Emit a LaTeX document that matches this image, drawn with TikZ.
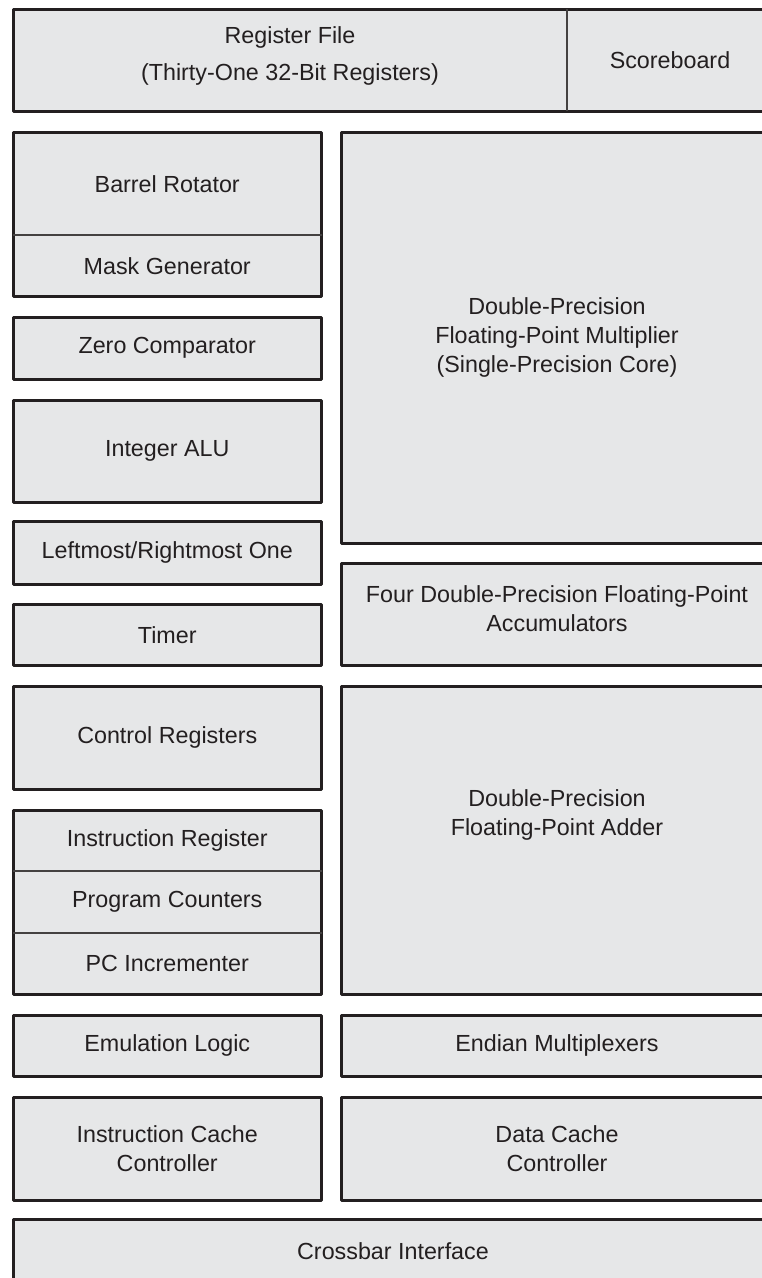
\documentclass[tikz,border=0pt]{standalone}
\usepackage{fontspec}
\setmainfont{Liberation Sans}
\definecolor{boxfill}{HTML}{E6E7E8}
\definecolor{ink}{HTML}{231F20}
\newcommand{\blk}[6]{\node[cell, minimum width={#4-#2}, minimum height={#5-#3}] (#1) at ({(#2+#4)/2},{(#3+#5)/2}) {#6};}
\begin{document}
\begin{tikzpicture}[x=1pt,y=-1pt,
  cell/.style={fill=boxfill, draw=none, inner sep=0pt, outer sep=0pt, align=center,
    text=ink, font=\fontsize{23.3}{29}\selectfont},
  txt/.style={inner sep=0pt, align=center, text=ink, font=\fontsize{23.3}{29}\selectfont},
  frame/.style={draw=ink, line width=3pt, line join=round},
  divider/.style={draw=ink!85, line width=1.2pt}]
\useasboundingbox (0,0) rectangle (762,1278);
\fill[white] (0,0) rectangle (762,1278);
\clip (0,0) rectangle (762,1278);
% top row
\blk{rf}{13}{9}{567}{111}{}
\node[txt, font=\fontsize{23.3}{37}\selectfont] (rft) at (290,56) {Register File\\(Thirty-One 32-Bit Registers)};
\blk{sb}{567}{9}{773}{111}{Scoreboard}
\draw[frame] (rf.north west) rectangle (sb.south east);
\draw[divider] (rf.north east) -- (rf.south east);
% left column
\blk{br}{13}{132.5}{321.5}{235}{Barrel Rotator}
\blk{mg}{13}{235}{321.5}{296.5}{Mask Generator}
\draw[frame] (br.north west) rectangle (mg.south east);
\draw[divider] (br.south west) -- (br.south east);
\blk{zc}{13}{317.5}{321.5}{379}{Zero Comparator}
\draw[frame] (zc.north west) rectangle (zc.south east);
\blk{alu}{13}{400}{321.5}{502}{Integer ALU}
\draw[frame] (alu.north west) rectangle (alu.south east);
\blk{lro}{13}{521.7}{321.5}{584}{Leftmost/Rightmost One}
\draw[frame] (lro.north west) rectangle (lro.south east);
\blk{tm}{13}{604}{321.5}{665.5}{Timer}
\draw[frame] (tm.north west) rectangle (tm.south east);
\blk{cr}{13}{686.7}{321.5}{789}{Control Registers}
\draw[frame] (cr.north west) rectangle (cr.south east);
\blk{ir}{13}{810}{321.5}{871}{Instruction Register}
\blk{pcn}{13}{871}{321.5}{933}{Program Counters}
\blk{pci}{13}{933}{321.5}{994.5}{PC Incrementer}
\draw[frame] (ir.north west) rectangle (pci.south east);
\draw[divider] (ir.south west) -- (ir.south east);
\draw[divider] (pcn.south west) -- (pcn.south east);
\blk{emu}{13}{1015}{321.5}{1076.7}{Emulation Logic}
\draw[frame] (emu.north west) rectangle (emu.south east);
\blk{icc}{13}{1097}{321.5}{1200}{Instruction Cache\\Controller}
\draw[frame] (icc.north west) rectangle (icc.south east);
% right column
\blk{mul}{341}{132.5}{773}{543}{Double-Precision\\Floating-Point Multiplier\\(Single-Precision Core)}
\draw[frame] (mul.north west) rectangle (mul.south east);
\blk{acc}{341}{563}{773}{665.5}{}
\node[txt] (acct) at (557,609) {Four Double-Precision Floating-Point\\Accumulators};
\draw[frame] (acc.north west) rectangle (acc.south east);
\blk{add}{341}{686.7}{773}{994.5}{}
\node[txt] (addt) at (557,815) {Double-Precision\\Floating-Point Adder};
\draw[frame] (add.north west) rectangle (add.south east);
\blk{endm}{341}{1015}{773}{1076.7}{Endian Multiplexers}
\draw[frame] (endm.north west) rectangle (endm.south east);
\blk{dcc}{341}{1097}{773}{1200}{Data Cache\\Controller}
\draw[frame] (dcc.north west) rectangle (dcc.south east);
% bottom
\blk{xbar}{13}{1219.5}{773}{1283}{Crossbar Interface}
\draw[frame] (xbar.north west) rectangle (xbar.south east);
\end{tikzpicture}
\end{document}
